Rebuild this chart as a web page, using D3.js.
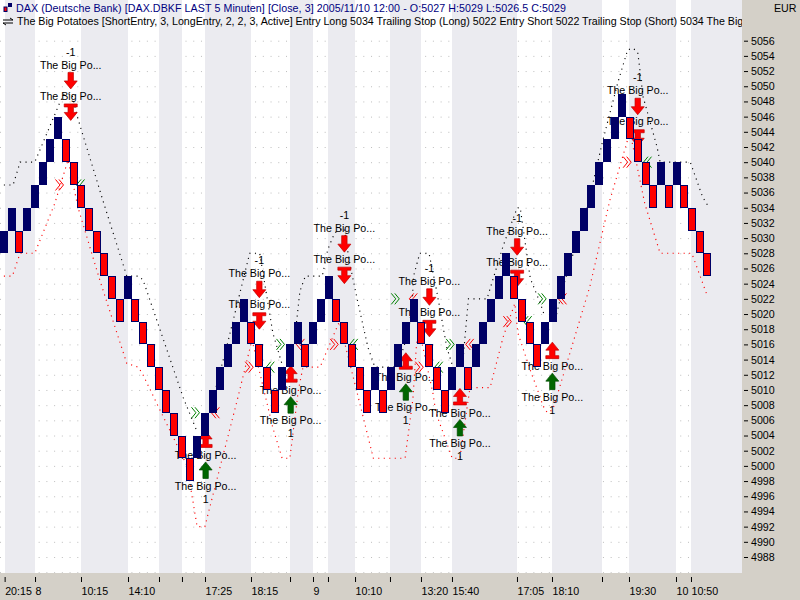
<!DOCTYPE html>
<html>
<head>
<meta charset="utf-8">
<script src="https://cdn.jsdelivr.net/npm/d3@7"></script>
<style>
  body { margin: 0; background: #fff; }
  svg { display: block; }
  text { font-family: "Liberation Sans", Arial, sans-serif; font-size: 10.67px; }
</style>
</head>
<body>
<svg id="chart" width="800" height="600"></svg>
<script>
const titleLine = "DAX (Deutsche Bank) [DAX.DBKF LAST 5 Minuten] [Close, 3] 2005/11/10 12:00 - O:5027 H:5029 L:5026.5 C:5029";
const studyLine = "The Big Potatoes [ShortEntry, 3, LongEntry, 2, 2, 3, Active] Entry Long 5034 Trailing Stop (Long) 5022 Entry Short 5022 Trailing Stop (Short) 5034 The Big";
const signalName = "The Big Po...";

// one renko brick per column
const brickOpen = [5028,5031,5031,5031,5034,5037,5040,5043,5043,5040,5037,5034,5031,5028,5025,5022,5022,5022,5019,5016,5013,5010,5007,5004,5001,5001,5004,5007,5010,5013,5016,5019,5019,5016,5013,5010,5010,5013,5016,5016,5016,5019,5022,5022,5019,5016,5013,5010,5010,5010,5010,5013,5016,5019,5019,5016,5013,5010,5010,5013,5013,5013,5016,5019,5022,5025,5025,5022,5019,5016,5016,5019,5022,5025,5028,5031,5034,5037,5040,5043,5046,5046,5043,5040,5037,5037,5037,5037,5037,5034,5031,5028];
const brickClose = [5031,5034,5028,5034,5037,5040,5043,5046,5040,5037,5034,5031,5028,5025,5022,5019,5025,5019,5016,5013,5010,5007,5004,5001,4998,5004,5007,5010,5013,5016,5019,5022,5016,5013,5010,5007,5013,5016,5019,5013,5019,5022,5025,5019,5016,5013,5010,5007,5013,5007,5013,5016,5019,5022,5016,5013,5010,5007,5013,5016,5010,5016,5019,5022,5025,5028,5022,5019,5016,5013,5019,5022,5025,5028,5031,5034,5037,5040,5043,5046,5049,5043,5040,5037,5034,5040,5034,5040,5034,5031,5028,5025];

// [column, price], null where the line breaks
const upperStop = [[0.5,5037],[1.7,5037],[2.6,5040],[4.5,5040],[7.8,5048],[8.3,5049],[9.3,5049],[10,5046],[13.3,5035],[16.4,5025],[17.9,5025],[18.5,5024.5],[23.7,5009],[25.5,5004.5],null,
  [27.6,5009],[29.4,5016],[32.3,5028],[33.6,5028],[35.3,5017.5],[36.6,5013],null,
  [38.2,5017.5],[38.8,5023],[39.5,5025],[41.7,5025],[42.4,5028.5],[43.3,5030.7],[44.5,5031.3],[45.3,5026.4],[46.2,5022],[47.6,5015.6],[48.5,5013],[51.4,5013],[52.8,5017.5],[53.3,5021],[53.5,5025],[54.3,5028],[55.5,5028],[56.5,5023],[57.8,5015.6],[58.6,5013],null,
  [59.9,5014],[60.6,5022],[60.8,5022],[63,5022],[65.1,5029],[66.9,5034],[67.3,5034],[68.6,5024.7],[69.9,5021.4],[70.5,5019.6],null,
  [72,5020],[73.1,5024.5],[75.9,5033.7],[77.9,5042.5],[79.9,5050.4],[81.2,5054.8],[81.9,5055],[82.5,5054.5],[83.2,5048.6],[85,5042],[85.4,5040],[89.3,5040],[90.9,5035.4],[91.5,5034.4]];
const lowerStop = [[0.5,5025],[1.6,5025],[2.6,5028],[4.5,5028],[7.1,5034.6],[8.8,5040.3],[10.1,5034],[12.9,5024.5],[16.4,5013.5],[17.9,5013],[18.5,5012],[20.2,5008.4],[24.2,5000],[25.5,4992],[26.5,4992],[30.7,5008.7],[32.6,5016.6],
  [35.3,5005],[36.5,5001],[37.5,5001],[38.6,5010],[39.2,5013],[41.4,5013],[42.9,5016.6],[43.9,5019],[46.6,5008],[48.3,5001],[52.4,5001],[53.4,5008.7],[53.9,5016.2],[54.3,5017.5],[56,5009.6],[56.4,5007],[58.5,5001],[59.5,5001],[60.4,5007.5],[60.8,5010.3],[63.4,5010.3],[65.1,5017],[66.6,5021.4],[67,5017.5],[68.6,5012.6],[69.9,5009],[70.2,5008],[70.8,5007],[71.5,5007.4],[72,5009],[76.3,5023.6],[78.9,5035],[81.5,5044],[83.4,5034.6],[85.4,5028],[89.5,5028],[91.5,5022.4]];

// [column, price of the lower arrow tip]
const shortSignals = [[9.15,5045.5],[33.55,5018],[44.55,5024],[55.55,5017],[66.9,5023.6],[82.5,5042.1]];
// [column, price of the upper arrow tip]
const longSignals = [[26.6,5004.6],[37.6,5013.2],[52.5,5014.9],[59.5,5010.2],[71.45,5016.3]];

// [column, price]
const chevronsRedRight = [[7.76,5037],[32.3,5013],[43.3,5016],[54.3,5013],[65.7,5019],[81.2,5040]];
const chevronsRedLeft = [[27.8,5007],[38.8,5016],[53.4,5022],[60.7,5016],[72.7,5022]];
const chevronsGreenRight = [[25.35,5007],[36.35,5016],[51.2,5022],[58.3,5016],[70.2,5022]];
const chevronsGreenLeft = [[10.35,5037],[34.9,5013],[45.7,5016],[56.7,5013],[68.2,5019],[83.7,5040]];

const priceTicks = d3.range(5056, 4986, -2);
const gridRows = d3.range(5056, 4984, -2);
const timeTickCols = [0.6,4.53,10.48,16.56,20.57,23.54,26.52,32.47,37.52,40.49,42.43,45.93,50.45,54.46,58.47,66.88,71.41,77.88,81.37,87.45,89.39];
const timeTickLabels = ["20:15","8","10:15","14:10","","","17:25","18:15","","9","","10:10","","13:20","15:40","17:05","18:10","","19:30","10","10:50"];

const width = 800, height = 600, plotRight = 742, plotBottom = 573;
const navy = "#000066", barRed = "#ff0000", panel = "#d4d0c8", band = "#ebebf0";

const svg = d3.select("#chart");
const x = d3.scaleLinear().domain([0, 96]).range([0, 742.08]);
const y = d3.scaleLinear().domain([5056, 4988]).range([40.7, 557]);

svg.append("rect").attr("width", width).attr("height", height).attr("fill", "#fff");

// dotted grid rows, the session bands cover them
const grid = svg.append("g")
    .call(d3.axisLeft(y).tickValues(gridRows).tickSize(-plotRight).tickFormat(""));
grid.select(".domain").remove();
grid.selectAll("line")
    .attr("stroke", "#bdbdbd")
    .attr("stroke-dasharray", "1 6.73");

// every other pair of time ticks is a shaded session
const bands = [];
for (let i = 0; i < timeTickCols.length; i += 2) {
    bands.push([timeTickCols[i], i + 1 < timeTickCols.length ? timeTickCols[i + 1] : 96]);
}
svg.append("g").selectAll("rect")
    .data(bands)
    .join("rect")
    .attr("x", d => Math.round(x(d[0])))
    .attr("y", 0)
    .attr("width", d => Math.round(x(d[1])) - Math.round(x(d[0])))
    .attr("height", plotBottom)
    .attr("fill", band);

// header lines
svg.append("text").attr("x", 16).attr("y", 12).attr("fill", "#000080")
    .attr("textLength", 550).attr("lengthAdjust", "spacing").text(titleLine);
svg.append("text").attr("x", 17).attr("y", 25).attr("fill", "#000").text(studyLine);

svg.append("rect").attr("x", 4).attr("y", 7).attr("width", 3).attr("height", 4.5)
    .attr("fill", barRed).attr("stroke", navy);
svg.append("rect").attr("x", 8).attr("y", 3).attr("width", 4).attr("height", 4).attr("fill", navy);
svg.append("path")
    .attr("d", "M3 20H13M10 18L13 20M13 23H3M6 25L3 23")
    .attr("fill", "none").attr("stroke", "#000");

// entry and exit chevrons
function chevrons(data, color, dir) {
    svg.append("g").selectAll("path")
        .data(data)
        .join("path")
        .attr("transform", d => `translate(${x(d[0])},${y(d[1])}) scale(${dir},1)`)
        .attr("d", "M-4.5 -5.5L0 0L-4.5 5.5M-1 -5.5L3.5 0L-1 5.5")
        .attr("fill", "none")
        .attr("stroke", color);
}
chevrons(chevronsRedRight, "#ff0000", 1);
chevrons(chevronsRedLeft, "#ff0000", -1);
chevrons(chevronsGreenRight, "#008000", 1);
chevrons(chevronsGreenLeft, "#008000", -1);

// trailing stops
const stopLine = d3.line()
    .defined(d => d !== null)
    .x(d => x(d[0]))
    .y(d => y(d[1]));
svg.append("path").datum(upperStop)
    .attr("d", stopLine).attr("fill", "none").attr("stroke", "#000")
    .attr("stroke-width", 1.15).attr("stroke-dasharray", "1.1 4.4");
svg.append("path").datum(lowerStop)
    .attr("d", stopLine).attr("fill", "none").attr("stroke", "#ff0000")
    .attr("stroke-width", 1.15).attr("stroke-dasharray", "1.1 4.4");

// arrows, tip at 0,0 and pointing up; scale(1,-1) flips them
const plainArrow = "M0 0L6.5 8H2.7V16.5H-2.7V8H-6.5Z";
const barArrow = "M0 0L6.5 8H2.7V13.5H6.5V16.5H-6.5V13.5H-2.7V8H-6.5Z";

function arrow(g, path, tipY, flip, fill, line) {
    g.append("path")
        .attr("transform", `translate(0,${tipY}) scale(1,${flip})`)
        .attr("d", path)
        .attr("fill", fill)
        .attr("stroke", line)
        .attr("stroke-width", 0.7);
}
function label(g, txt, atY) {
    g.append("text")
        .attr("y", atY)
        .attr("dy", "0.35em")
        .attr("text-anchor", "middle")
        .attr("fill", "#000")
        .text(txt);
}

svg.append("g").selectAll("g")
    .data(shortSignals)
    .join("g")
    .attr("transform", d => `translate(${x(d[0])},${y(d[1])})`)
    .each(function () {
        const g = d3.select(this);
        label(g, "-1", -68.5);
        label(g, signalName, -55.5);
        arrow(g, plainArrow, -31.5, -1, "#ff0000", "#c00000");
        label(g, signalName, -24.5);
        arrow(g, barArrow, 0, -1, "#ff0000", "#c00000");
    });

svg.append("g").selectAll("g")
    .data(longSignals)
    .join("g")
    .attr("transform", d => `translate(${x(d[0])},${y(d[1])})`)
    .each(function () {
        const g = d3.select(this);
        arrow(g, barArrow, 0, 1, "#ff0000", "#c00000");
        label(g, signalName, 24.5);
        arrow(g, plainArrow, 31, 1, "#006600", "#004d00");
        label(g, signalName, 55);
        label(g, "1", 68);
    });

// bricks sit on top of everything in the plot
svg.append("g").selectAll("rect")
    .data(brickOpen.map((o, i) => ({ col: i, open: o, close: brickClose[i] })))
    .join("rect")
    .attr("shape-rendering", "crispEdges")
    .attr("x", d => Math.round(x(d.col)) + (d.close > d.open ? 0 : 0.5))
    .attr("y", d => Math.round(y(Math.max(d.open, d.close))) + (d.close > d.open ? 0 : 0.5))
    .attr("width", d => d.close > d.open ? 8 : 7)
    .attr("height", d => Math.round(y(Math.min(d.open, d.close))) - Math.round(y(Math.max(d.open, d.close))) - (d.close > d.open ? 0 : 1))
    .attr("fill", d => d.close > d.open ? navy : barRed)
    .attr("stroke", d => d.close > d.open ? "none" : navy);

// axis panels
svg.append("rect").attr("x", plotRight).attr("y", 0)
    .attr("width", width - plotRight).attr("height", height).attr("fill", panel);
svg.append("rect").attr("x", 0).attr("y", plotBottom)
    .attr("width", width).attr("height", height - plotBottom).attr("fill", panel);

const priceAxis = svg.append("g")
    .attr("transform", `translate(744,0)`)
    .call(d3.axisRight(y).tickValues(priceTicks).tickSize(4).tickPadding(3).tickFormat(d3.format("d")));
priceAxis.select(".domain").remove();
priceAxis.selectAll("line").attr("stroke", "#000");
priceAxis.selectAll("text").attr("fill", "#000").style("font-size", "10.67px")
    .style("font-family", '"Liberation Sans", Arial, sans-serif');

const timeAxis = svg.append("g")
    .attr("transform", "translate(0,577)")
    .call(d3.axisBottom(x).tickValues(timeTickCols).tickSize(5).tickPadding(5)
        .tickFormat((d, i) => timeTickLabels[i]));
timeAxis.select(".domain").remove();
timeAxis.selectAll("line").attr("stroke", "#000");
timeAxis.selectAll("text").attr("fill", "#000").attr("text-anchor", "start")
    .style("font-size", "10.67px")
    .style("font-family", '"Liberation Sans", Arial, sans-serif');

svg.append("text").attr("x", 774).attr("y", 12).attr("fill", "#000").text("EUR");
</script>
</body>
</html>
